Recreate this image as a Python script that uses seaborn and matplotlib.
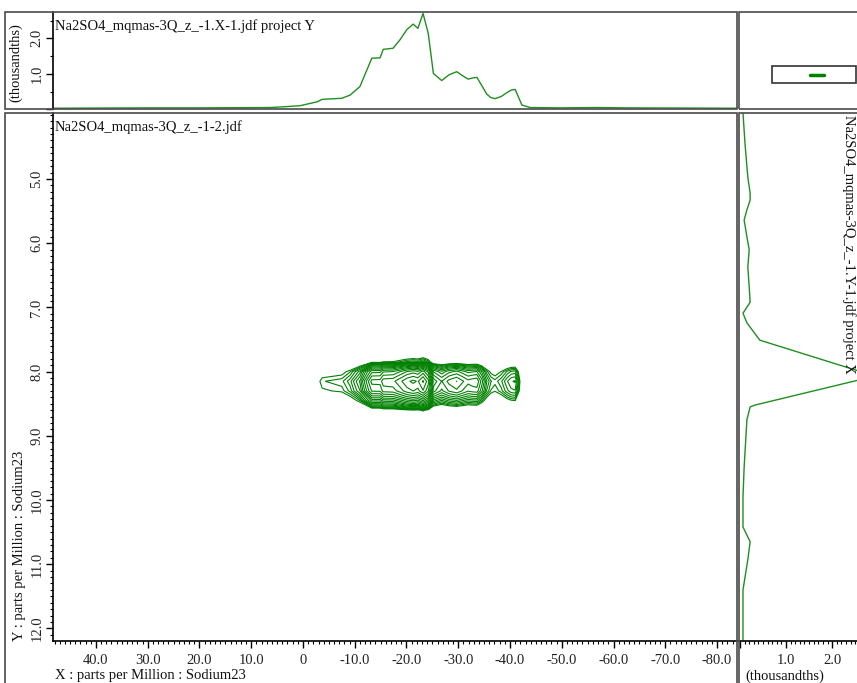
import numpy as np
import matplotlib
matplotlib.use('Agg')
import matplotlib.pyplot as plt
import seaborn as sns
from matplotlib.ticker import MultipleLocator, FixedLocator, FuncFormatter
from matplotlib.patches import Rectangle

# F2 projection (top panel), ppm vs thousandths
top_ppm = [48.3, 30.0, 20.0, 6.4, 5.0, 0.6, -2.7, -3.7, -7.5, -9.1, -11.0, -13.3,
           -14.9, -15.5, -17.4, -18.7, -20.1, -21.3, -22.2, -23.2, -24.2, -25.2,
           -26.8, -28.2, -29.7, -30.8, -31.9, -32.7, -33.6, -34.5, -35.5, -36.3,
           -37.1, -38.3, -39.4, -40.2, -41.0, -42.3, -43.9, -49.7, -56.8, -62.6, -83.8]
top_val = [0.03, 0.04, 0.04, 0.05, 0.06, 0.10, 0.21, 0.28, 0.31, 0.40, 0.64, 1.44,
           1.45, 1.69, 1.72, 1.95, 2.25, 2.40, 2.28, 2.70, 2.14, 1.01,
           0.81, 0.97, 1.06, 0.95, 0.85, 0.88, 0.90, 0.68, 0.43, 0.33,
           0.30, 0.36, 0.47, 0.54, 0.56, 0.12, 0.05, 0.04, 0.05, 0.04, 0.03]

# F1 projection (right panel), ppm vs thousandths
right_ppm = [3.97, 4.46, 4.97, 5.22, 5.33, 5.48, 5.64, 5.90, 6.10, 6.37, 6.68, 6.92,
             7.09, 7.24, 7.51, 8.07, 8.52, 8.55, 8.75, 9.49, 9.95, 10.42, 10.65,
             10.93, 11.40, 12.18]
right_val = [0.065, 0.11, 0.17, 0.22, 0.22, 0.15, 0.09, 0.15, 0.20, 0.17, 0.20, 0.22,
             0.065, 0.15, 0.43, 2.93, 0.33, 0.22, 0.15, 0.09, 0.065, 0.065, 0.22,
             0.17, 0.065, 0.065]

# F1 shape of the 2D peak (relative)
f1_ppm = [7.4, 7.7, 7.85, 8.0, 8.15, 8.3, 8.45, 8.6, 8.75, 9.0]
f1_weight = [0.0, 0.02, 0.15, 0.7, 1.0, 0.85, 0.45, 0.1, 0.02, 0.0]

W, H = 857, 683
sns.set_theme(style='white')
plt.rcParams['font.family'] = ['Liberation Serif', 'DejaVu Serif']
plt.rcParams['font.size'] = 10.5

fig = plt.figure(figsize=(W / 100, H / 100), dpi=100)


def rect(x0, y0, x1, y1):
    return [x0 / W, 1 - y1 / H, (x1 - x0) / W, (y1 - y0) / H]


ax = fig.add_axes(rect(53, 112.7, 736.7, 641))
ax_top = fig.add_axes(rect(53, 11.7, 736.7, 109.3))
ax_right = fig.add_axes(rect(739.3, 112.7, 857, 641))
ax_corner = fig.add_axes(rect(739.3, 11.7, 857, 109.3))

green = '#008000'
line_green = '#1f8f1f'

# contour from the two read profiles
Z = np.outer(f1_weight, top_val)
levels = 0.25 * 1.14 ** np.arange(19)
ax.contour(top_ppm[::-1], f1_ppm, Z[:, ::-1], levels=levels, colors=green, linewidths=0.8)

sns.lineplot(x=top_ppm, y=top_val, sort=False, estimator=None, ax=ax_top,
             color=line_green, linewidth=1.0)
sns.lineplot(x=right_val, y=right_ppm, sort=False, estimator=None, orient='y', ax=ax_right,
             color=line_green, linewidth=1.0)

xlim = (48.3, -83.8)
ylim = (12.196, 3.967)
ax.set_xlim(xlim)
ax.set_ylim(ylim)
ax_top.set_xlim(xlim)
ax_top.set_ylim(0, 2.75)
ax_right.set_ylim(ylim)
ax_right.set_xlim(-0.015, 2.54)

for a in (ax, ax_top, ax_right, ax_corner):
    for s in a.spines.values():
        s.set_visible(False)
    a.set_xlabel('')
    a.set_ylabel('')
    a.set_facecolor('none')

tick_kw = dict(direction='out', color='black', labelcolor='#222222', labelsize=10.5)

# main axes
ax.spines['left'].set_visible(True)
ax.spines['bottom'].set_visible(True)
for s in ('left', 'bottom'):
    ax.spines[s].set_color('black')
    ax.spines[s].set_linewidth(1.2)
ax.xaxis.set_major_locator(MultipleLocator(10))
ax.xaxis.set_minor_locator(MultipleLocator(1))
ax.xaxis.set_major_formatter(FuncFormatter(lambda v, p: '0' if abs(v) < 1e-9 else f'{v:.1f}'))
ax.yaxis.set_major_locator(FixedLocator([5, 6, 7, 8, 9, 10, 11, 12]))
ax.yaxis.set_minor_locator(MultipleLocator(0.1))
ax.yaxis.set_major_formatter(FuncFormatter(lambda v, p: f'{v:.1f}'))
ax.tick_params(which='major', length=5, width=1, pad=4, bottom=True, left=True, **tick_kw)
ax.tick_params(which='minor', length=2.5, width=0.8, bottom=True, left=True, direction='out', color='black')
ax.tick_params(axis='y', which='major', pad=2)
plt.setp(ax.get_yticklabels(), rotation=90, va='center')

# top projection axes
ax_top.spines['left'].set_visible(True)
ax_top.spines['left'].set_color('black')
ax_top.spines['left'].set_linewidth(1.2)
ax_top.set_xticks([])
ax_top.yaxis.set_major_locator(FixedLocator([0, 1.0, 2.0]))
ax_top.yaxis.set_minor_locator(FixedLocator([0.5, 1.5, 2.5]))
ax_top.yaxis.set_major_formatter(FuncFormatter(lambda v, p: '' if v == 0 else f'{v:.1f}'))
ax_top.tick_params(which='major', length=5, width=1, pad=2, left=True, **tick_kw)
ax_top.tick_params(which='minor', length=2.5, width=0.8, left=True, direction='out', color='black')
plt.setp(ax_top.get_yticklabels(), rotation=90, va='center')

# right projection axes
ax_right.spines['bottom'].set_visible(True)
ax_right.spines['bottom'].set_color('black')
ax_right.spines['bottom'].set_linewidth(1.2)
ax_right.set_yticks([])
ax_right.xaxis.set_major_locator(FixedLocator([0, 1.0, 2.0]))
ax_right.xaxis.set_minor_locator(MultipleLocator(0.1))
ax_right.xaxis.set_major_formatter(FuncFormatter(lambda v, p: '' if v == 0 else f'{v:.1f}'))
ax_right.tick_params(which='major', length=5, width=1, pad=4, bottom=True, **tick_kw)
ax_right.tick_params(which='minor', length=2.5, width=0.8, bottom=True, direction='out', color='black')

# corner overview box
ax_corner.set_xticks([])
ax_corner.set_yticks([])
ax_corner.add_patch(Rectangle((0.28, 0.27), 0.71, 0.17, transform=ax_corner.transAxes,
                              fill=False, edgecolor='#333333', linewidth=1.2))
ax_corner.plot([0.6, 0.72], [0.355, 0.355], transform=ax_corner.transAxes,
               color=green, linewidth=2.5, solid_capstyle='round')

# panel frames
frame_kw = dict(transform=fig.transFigure, fill=False, edgecolor='#4a4a4a', linewidth=1.2)
for x0, y0, x1, y1 in [(5, 11.7, 736.7, 109.3), (5, 112.7, 736.7, 690),
                       (739.3, 11.7, 860, 109.3), (739.3, 112.7, 860, 690)]:
    r = rect(x0, y0, x1, y1)
    fig.add_artist(Rectangle((r[0], r[1]), r[2], r[3], **frame_kw))

# texts
fig.text(55 / W, 1 - 26 / H, 'Na2SO4_mqmas-3Q_z_-1.X-1.jdf project Y', ha='left', va='center', color='#111111')
fig.text(55 / W, 1 - 127 / H, 'Na2SO4_mqmas-3Q_z_-1-2.jdf', ha='left', va='center', color='#111111')
fig.text(849 / W, 1 - 115 / H, 'Na2SO4_mqmas-3Q_z_-1.Y-1.jdf project X', rotation=-90,
         ha='center', va='top', color='#111111')
fig.text(55 / W, 1 - 676 / H, 'X : parts per Million : Sodium23', ha='left', va='center', color='#111111')
fig.text(20 / W, 1 - 641 / H, 'Y : parts per Million : Sodium23', rotation=90,
         ha='center', va='bottom', color='#111111')
fig.text(16 / W, 1 - 63 / H, '(thousandths)', rotation=90, ha='center', va='center', color='#111111')
fig.text(745 / W, 1 - 676 / H, '(thousandths)', ha='left', va='center', color='#111111')

fig.savefig('out.png', dpi=100)
